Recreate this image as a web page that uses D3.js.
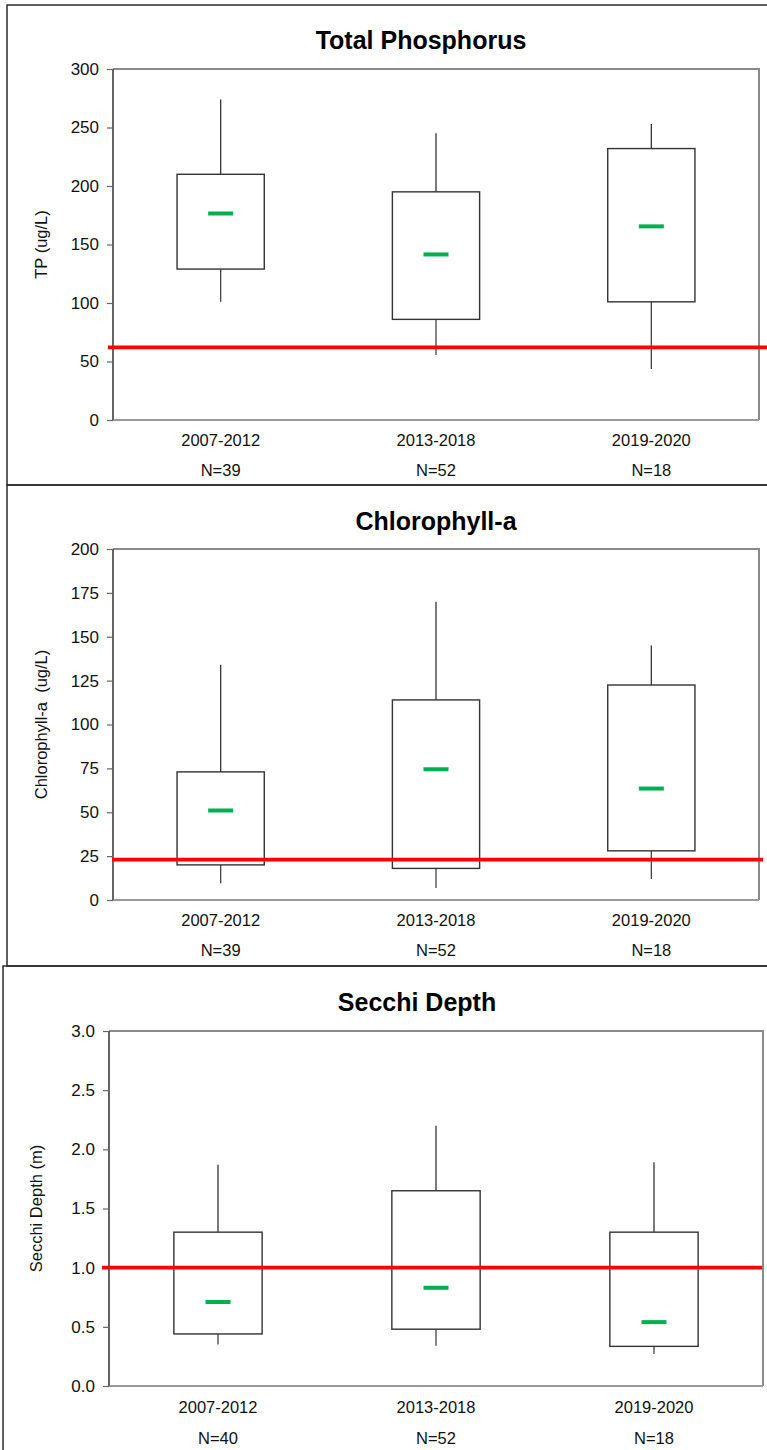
<!DOCTYPE html>
<html>
<head>
<meta charset="utf-8">
<script src="https://cdn.jsdelivr.net/npm/d3@7"></script>
<style>
  html, body { margin: 0; padding: 0; background: #fff; }
  svg { display: block; font-family: "Liberation Sans", Arial, sans-serif; }
</style>
</head>
<body>
<svg id="chart" width="767" height="1450"></svg>
<script>
// Period groups shared by all three panels
const periods = ["2007-2012", "2013-2018", "2019-2020"];

// Total phosphorus (ug/L)
const tpCounts = [39, 52, 18];
const tpWhiskerLow = [101, 55.5, 43.5];
const tpBoxLow = [129, 86, 101];
const tpMid = [176.5, 141.5, 165.5];
const tpBoxHigh = [210, 195, 232];
const tpWhiskerHigh = [274, 245, 253];
const tpTarget = 62;
const tpTicks = [0, 50, 100, 150, 200, 250, 300];

// Chlorophyll-a (ug/L)
const chlCounts = [39, 52, 18];
const chlWhiskerLow = [9.5, 6.8, 12];
const chlBoxLow = [20, 18, 28];
const chlMid = [51, 74.5, 63.5];
const chlBoxHigh = [73, 114, 122.5];
const chlWhiskerHigh = [134, 170, 145];
const chlTarget = 23;
const chlTicks = [0, 25, 50, 75, 100, 125, 150, 175, 200];

// Secchi depth (m)
const sdCounts = [40, 52, 18];
const sdWhiskerLow = [0.35, 0.34, 0.27];
const sdBoxLow = [0.44, 0.48, 0.335];
const sdMid = [0.71, 0.83, 0.54];
const sdBoxHigh = [1.3, 1.65, 1.3];
const sdWhiskerHigh = [1.87, 2.2, 1.89];
const sdTarget = 1.0;
const sdTicks = [0, 0.5, 1.0, 1.5, 2.0, 2.5, 3.0];

const panels = [
  {
    title: "Total Phosphorus", yLabel: "TP (ug/L)", fmt: d3.format("d"),
    domain: [0, 300], ticks: tpTicks, counts: tpCounts,
    lo: tpWhiskerLow, q1: tpBoxLow, mid: tpMid, q3: tpBoxHigh, hi: tpWhiskerHigh, target: tpTarget,
    frame: { x: 7, y: 5, w: 780, h: 480 },
    plot: { x0: 113, x1: 759, y0: 69, y1: 420 },
    titleX: 421, titleY: 49, yLabelX: 47, refX: [108, 767],
    catY: 446, nY: 476
  },
  {
    title: "Chlorophyll-a", yLabel: "Chlorophyll-a  (ug/L)", fmt: d3.format("d"),
    domain: [0, 200], ticks: chlTicks, counts: chlCounts,
    lo: chlWhiskerLow, q1: chlBoxLow, mid: chlMid, q3: chlBoxHigh, hi: chlWhiskerHigh, target: chlTarget,
    frame: { x: 7, y: 485, w: 780, h: 481 },
    plot: { x0: 113, x1: 759, y0: 549, y1: 900 },
    titleX: 436, titleY: 530, yLabelX: 47, refX: [112, 763],
    catY: 926, nY: 956
  },
  {
    title: "Secchi Depth", yLabel: "Secchi Depth (m)", fmt: d3.format(".1f"),
    domain: [0, 3], ticks: sdTicks, counts: sdCounts,
    lo: sdWhiskerLow, q1: sdBoxLow, mid: sdMid, q3: sdBoxHigh, hi: sdWhiskerHigh, target: sdTarget,
    frame: { x: 3, y: 966, w: 784, h: 500 },
    plot: { x0: 109, x1: 763, y0: 1031, y1: 1386 },
    titleX: 417, titleY: 1011, yLabelX: 42, refX: [102, 762],
    catY: 1413, nY: 1444
  }
];

const svg = d3.select("#chart");

panels.forEach(p => {
  const g = svg.append("g");

  // outer panel border
  g.append("rect")
    .attr("x", p.frame.x).attr("y", p.frame.y)
    .attr("width", p.frame.w).attr("height", p.frame.h)
    .attr("fill", "none").attr("stroke", "#2b2b2b").attr("stroke-width", 1.5);

  const x = d3.scaleBand().domain(periods).range([p.plot.x0, p.plot.x1]);
  const y = d3.scaleLinear().domain(p.domain).range([p.plot.y1, p.plot.y0]);
  const boxW = x.bandwidth() * 0.405;
  const cx = d => x(d) + x.bandwidth() / 2;

  // plot frame: top and right edges
  g.append("path")
    .attr("d", `M${p.plot.x0},${p.plot.y0}H${p.plot.x1}V${p.plot.y1}`)
    .attr("fill", "none").attr("stroke", "#8a8a8a").attr("stroke-width", 2);

  // bottom axis line
  g.append("line")
    .attr("x1", p.plot.x0).attr("x2", p.plot.x1)
    .attr("y1", p.plot.y1).attr("y2", p.plot.y1)
    .attr("stroke", "#9a9a9a").attr("stroke-width", 2);

  // left axis
  const yAxis = d3.axisLeft(y).tickValues(p.ticks).tickFormat(p.fmt).tickSize(6).tickPadding(8);
  const ya = g.append("g").attr("transform", `translate(${p.plot.x0},0)`).call(yAxis);
  ya.select(".domain").attr("stroke", "#555").attr("stroke-width", 1.8)
    .attr("d", `M0,${p.plot.y0}V${p.plot.y1}`);
  ya.selectAll(".tick line").attr("stroke", "#666").attr("stroke-width", 1.2);
  ya.selectAll(".tick text").attr("fill", "#111").style("font-size", "17px")
    .style("font-family", "'Liberation Sans', Arial, sans-serif");

  // title
  g.append("text")
    .attr("x", p.titleX).attr("y", p.titleY)
    .attr("text-anchor", "middle").attr("font-weight", "bold")
    .style("font-size", "25px").attr("fill", "#000")
    .text(p.title);

  // y axis label
  g.append("text")
    .attr("transform", `translate(${p.yLabelX},${(p.plot.y0 + p.plot.y1) / 2}) rotate(-90)`)
    .attr("text-anchor", "middle").style("font-size", "16.5px").attr("fill", "#111")
    .attr("xml:space", "preserve")
    .text(p.yLabel);

  // category and count labels
  periods.forEach((c, i) => {
    g.append("text").attr("x", cx(c)).attr("y", p.catY)
      .attr("text-anchor", "middle").style("font-size", "16.5px").attr("fill", "#111")
      .text(c);
    g.append("text").attr("x", cx(c)).attr("y", p.nY)
      .attr("text-anchor", "middle").style("font-size", "16.5px").attr("fill", "#111")
      .text("N=" + p.counts[i]);
  });

  // whiskers
  const boxes = periods.map((c, i) => ({ c, lo: p.lo[i], q1: p.q1[i], mid: p.mid[i], q3: p.q3[i], hi: p.hi[i] }));
  g.selectAll(".wl").data(boxes).join("line")
    .attr("x1", d => cx(d.c)).attr("x2", d => cx(d.c))
    .attr("y1", d => y(d.q1)).attr("y2", d => y(d.lo))
    .attr("stroke", "#444").attr("stroke-width", 1.3);
  g.selectAll(".wh").data(boxes).join("line")
    .attr("x1", d => cx(d.c)).attr("x2", d => cx(d.c))
    .attr("y1", d => y(d.q3)).attr("y2", d => y(d.hi))
    .attr("stroke", "#333").attr("stroke-width", 1.3);

  // boxes
  g.selectAll(".box").data(boxes).join("rect")
    .attr("x", d => cx(d.c) - boxW / 2).attr("width", boxW)
    .attr("y", d => y(d.q3)).attr("height", d => y(d.q1) - y(d.q3))
    .attr("fill", "#fff").attr("stroke", "#333").attr("stroke-width", 1.4);

  // reference line
  g.append("line")
    .attr("x1", p.refX[0]).attr("x2", p.refX[1])
    .attr("y1", y(p.target)).attr("y2", y(p.target))
    .attr("stroke", "#ff0000").attr("stroke-width", 3.8);

  // central marks
  g.selectAll(".mid").data(boxes).join("line")
    .attr("x1", d => cx(d.c) - 12.5).attr("x2", d => cx(d.c) + 12.5)
    .attr("y1", d => y(d.mid)).attr("y2", d => y(d.mid))
    .attr("stroke", "#00b050").attr("stroke-width", 4);
});
</script>
</body>
</html>
